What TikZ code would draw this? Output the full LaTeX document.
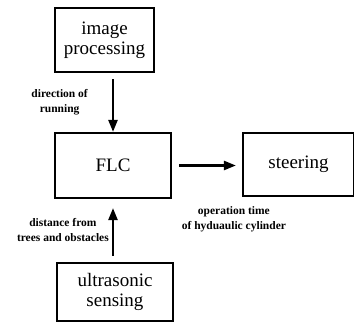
\documentclass[tikz,border=0pt]{standalone}
\usepackage{fontspec}
\setmainfont{Liberation Serif}
\usetikzlibrary{arrows.meta,positioning}
\begin{document}
\begin{tikzpicture}[x=1pt,y=-1pt]
    \tikzstyle{block}=[
        draw = black,
        line width = 2.2pt,
        fill = white,
        font = \fontsize{19}{20}\selectfont,
        align = center,
        inner sep = 0pt
    ]
    \tikzstyle{flow}=[
        line width = 2.4pt,
        -{Triangle[length=12pt,width=9pt]}
    ]
    \tikzstyle{tag}=[
        font = \fontsize{11.5}{15}\selectfont\bfseries,
        align = center,
        inner sep = 0pt
    ]
    \useasboundingbox (0,0) rectangle (354,323);

    \node[block, minimum width=99pt, minimum height=64pt]  (img)   at (104.5, 40)    {image\\processing};
    \node[block, minimum width=116pt, minimum height=65pt] (flc)   at (113, 165.5)   {FLC};
    \node[block, minimum width=111pt, minimum height=63pt] (steer) at (298.5, 164.5) {steering};
    \node[block, minimum width=116pt, minimum height=58pt] (ultra) at (115, 292)     {ultrasonic\\sensing};

    \draw[flow, shorten <=6pt] (img.south -| flc.north) -- (flc.north)
        node[tag, midway, left=24pt] {direction of\\running};
    \draw[flow, shorten <=6pt, shorten >=9pt] (ultra.north -| flc.south) -- (flc.south)
        node[tag, midway, left=3pt] {distance from\\trees and obstacles};
    \draw[flow, shorten <=7pt, shorten >=6pt] (flc.east) -- (flc.east -| steer.west);

    \node[tag, below=9pt of steer.south west, xshift=-8pt] (optime) {operation time\\of hyduaulic cylinder};

\end{tikzpicture}
\end{document}
